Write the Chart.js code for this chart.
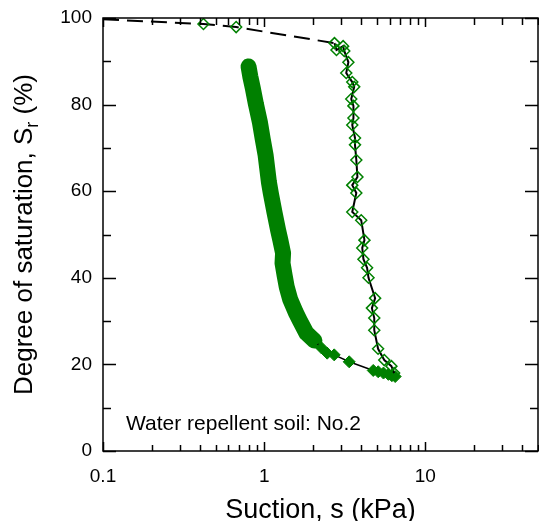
<!DOCTYPE html>
<html>
<head>
<meta charset="utf-8">
<script src="https://cdn.jsdelivr.net/npm/chart.js@4.4.0/dist/chart.umd.min.js"></script>
<style>
  html, body { margin: 0; padding: 0; background: #fff; }
</style>
</head>
<body>
<canvas id="swccChart" width="539" height="521"></canvas>
<script>
// drying branch: dense cloud of readings, traced along its centre
const dryBandSuction = [0.80, 0.82, 0.85, 0.89, 0.94, 0.98, 1.02, 1.07, 1.10, 1.16, 1.22, 1.26, 1.31, 1.30, 1.34, 1.38, 1.45, 1.57, 1.66, 1.83, 2.05];
const dryBandSr = [88.8, 86.5, 83.8, 80.0, 76.0, 72.0, 68.4, 62.1, 59.5, 55.0, 51.0, 48.7, 45.7, 43.4, 40.5, 37.9, 35.0, 32.0, 30.2, 27.2, 25.5];

// drying branch: sparser readings at the dry end
const dryTailSuction = [2.05, 2.27, 2.46, 2.72, 3.37, 4.75, 5.1, 5.5, 5.9, 6.2, 6.5];
const dryTailSr = [25.5, 23.8, 22.6, 22.2, 20.6, 18.6, 18.3, 18.0, 17.7, 17.4, 17.2];

// wetting branch (open diamonds)
const wetSuction = [0.42, 0.67, 2.73, 2.81, 3.09, 3.14, 3.33, 3.23, 3.52, 3.62, 3.47, 3.58, 3.58, 3.52, 3.66, 3.66, 3.73, 3.79, 3.52, 3.73, 3.52, 4.00, 4.19, 4.06, 4.13, 4.35, 4.44, 4.88, 4.66, 4.82, 4.82, 5.09, 5.56, 6.16, 6.40];
const wetSr = [98.6, 97.9, 94.2, 92.6, 93.5, 92.4, 89.8, 87.3, 85.2, 84.1, 81.3, 79.7, 76.9, 75.3, 72.3, 70.7, 67.2, 63.3, 61.4, 59.6, 55.2, 53.3, 48.7, 46.9, 44.3, 42.3, 40.0, 35.3, 33.0, 30.7, 27.9, 23.6, 21.0, 19.6, 18.0];

// dashed trend at the wet end
const trendSuction = [0.1, 0.42, 0.67, 2.73];
const trendSr = [99.7, 98.6, 97.9, 94.2];

const xTickLabels = [0.1, 1, 10];
const yTickLabels = [0, 20, 40, 60, 80, 100];

const GREEN = '#008000';
const FONT = "'Liberation Sans', Arial, sans-serif";

function pts(xs, ys) {
    return xs.map((v, i) => ({ x: v, y: ys[i] }));
}

function isDecade(v) {
    const l = Math.log10(v);
    return Math.abs(l - Math.round(l)) < 1e-6;
}

// log ticks at 1..9 of each decade only (chart.js also adds 1.5, 15, ...)
function isWholeStep(v) {
    const m = v / Math.pow(10, Math.floor(Math.log10(v) + 1e-9));
    return Math.abs(m - Math.round(m)) < 1e-6;
}

// box, inward ticks on all four sides, titles and the note
const frameTicks = {
    id: 'frameTicks',
    afterDatasetsDraw(chart) {
        const { ctx, chartArea: a, scales: { x, y } } = chart;
        ctx.save();
        ctx.strokeStyle = '#000';
        ctx.lineWidth = 1.5;
        ctx.beginPath();
        x.ticks.filter(t => isWholeStep(t.value)).forEach(t => {
            const px = Math.round(x.getPixelForValue(t.value)) + 0.5;
            const big = isDecade(t.value);
            ctx.moveTo(px, a.bottom); ctx.lineTo(px, a.bottom - (big ? 9 : 6));
            ctx.moveTo(px, a.top); ctx.lineTo(px, a.top + (big ? 9 : 7));
        });
        y.ticks.forEach(t => {
            const py = Math.round(y.getPixelForValue(t.value)) + 0.5;
            const big = t.value % 20 === 0;
            ctx.moveTo(a.left, py); ctx.lineTo(a.left + (big ? 13 : 8), py);
            ctx.moveTo(a.right, py); ctx.lineTo(a.right - (big ? 13 : 8), py);
        });
        ctx.stroke();
        ctx.strokeRect(a.left, a.top, a.right - a.left, a.bottom - a.top);

        ctx.fillStyle = '#000';
        ctx.textBaseline = 'alphabetic';

        // x title
        ctx.font = '27px ' + FONT;
        ctx.textAlign = 'center';
        ctx.fillText('Suction, s (kPa)', (a.left + a.right) / 2, 518);

        // y title with subscript r
        const main = '26px ' + FONT, sub = '18px ' + FONT;
        ctx.font = main;
        const w1 = ctx.measureText('Degree of saturation, S').width;
        const w3 = ctx.measureText(' (%)').width;
        ctx.font = sub;
        const w2 = ctx.measureText('r').width;
        const total = w1 + w2 + w3;
        ctx.translate(32, (a.top + a.bottom) / 2);
        ctx.rotate(-Math.PI / 2);
        ctx.textAlign = 'left';
        let cx = -total / 2;
        ctx.font = main;
        ctx.fillText('Degree of saturation, S', cx, 0);
        cx += w1;
        ctx.font = sub;
        ctx.fillText('r', cx, 6);
        cx += w2;
        ctx.font = main;
        ctx.fillText(' (%)', cx, 0);
        ctx.setTransform(1, 0, 0, 1, 0, 0);

        // note
        ctx.font = '21px ' + FONT;
        ctx.textAlign = 'left';
        ctx.fillText('Water repellent soil: No.2', 126, 430);
        ctx.restore();
    }
};

new Chart(document.getElementById('swccChart').getContext('2d'), {
    type: 'scatter',
    data: {
        datasets: [
            {
                data: pts(wetSuction, wetSr),
                showLine: true,
                borderColor: '#000',
                borderWidth: 2,
                segment: {
                    borderColor: ctx => ctx.p1DataIndex <= 2 ? 'rgba(0,0,0,0)' : '#000'
                },
                pointStyle: 'rectRot',
                pointRadius: 5.5,
                pointBorderWidth: 1.5,
                pointBorderColor: GREEN,
                pointBackgroundColor: 'rgba(0,0,0,0)'
            },
            {
                data: pts(trendSuction, trendSr),
                showLine: true,
                borderColor: '#000',
                borderWidth: 2,
                borderDash: [16, 8],
                pointRadius: 0
            },
            {
                data: pts(dryTailSuction, dryTailSr),
                showLine: true,
                borderColor: '#000',
                borderWidth: 1.5,
                pointStyle: 'rectRot',
                pointRadius: 6,
                pointBorderWidth: 1,
                pointBorderColor: GREEN,
                pointBackgroundColor: GREEN
            },
            {
                data: pts(dryBandSuction, dryBandSr),
                showLine: true,
                borderColor: GREEN,
                borderWidth: 16,
                borderCapStyle: 'round',
                borderJoinStyle: 'round',
                pointRadius: 0
            }
        ]
    },
    options: {
        responsive: false,
        animation: false,
        layout: { autoPadding: false, padding: { top: 18, right: 1, left: 0, bottom: 0 } },
        plugins: {
            legend: { display: false },
            tooltip: { enabled: false }
        },
        scales: {
            x: {
                type: 'logarithmic',
                min: 0.1,
                max: 50,
                grid: { display: false, drawTicks: false },
                border: { display: false },
                afterFit: s => {
                    s.height = 70;
                    s.paddingLeft = 0;
                    s.paddingRight = 0;
                },
                ticks: {
                    autoSkip: false,
                    maxRotation: 0,
                    padding: 14,
                    color: '#000',
                    font: { family: FONT, size: 19 },
                    callback: v => xTickLabels.some(l => Math.abs(l - v) < 1e-9) ? String(v) : ''
                }
            },
            y: {
                min: 0,
                max: 100,
                grid: { display: false, drawTicks: false },
                border: { display: false },
                afterFit: s => {
                    s.width = 103;
                    s.paddingTop = 0;
                    s.paddingBottom = 0;
                },
                ticks: {
                    stepSize: 10,
                    padding: 11,
                    color: '#000',
                    font: { family: FONT, size: 19 },
                    callback: v => yTickLabels.includes(v) ? String(v) : ''
                }
            }
        }
    },
    plugins: [frameTicks]
});
</script>
</body>
</html>
